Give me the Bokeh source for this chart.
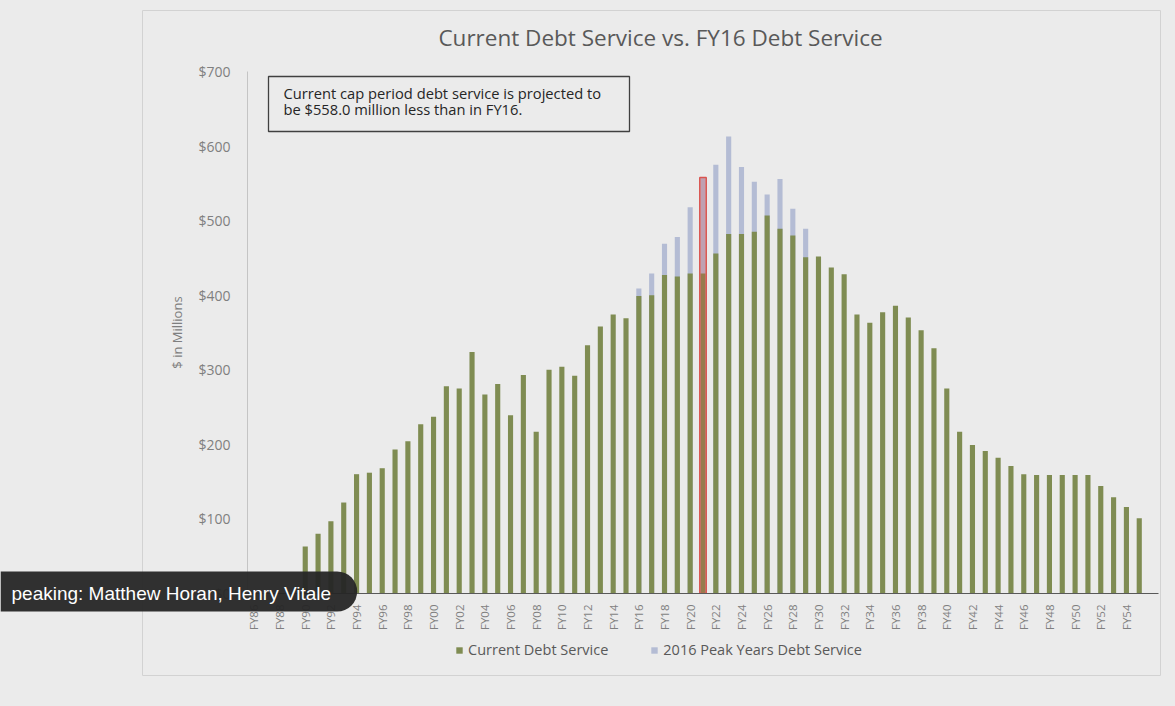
from math import pi
from bokeh.plotting import figure
from bokeh.models import (Range1d, FixedTicker, NumeralTickFormatter, Label,
                          BoxAnnotation, Legend, LegendItem)
from bokeh.embed import file_html
from bokeh.resources import INLINE

# ---------------- data ----------------
years = ["FY86", "FY87", "FY88", "FY89", "FY90", "FY91", "FY92", "FY93", "FY94", "FY95",
         "FY96", "FY97", "FY98", "FY99", "FY00", "FY01", "FY02", "FY03", "FY04", "FY05",
         "FY06", "FY07", "FY08", "FY09", "FY10", "FY11", "FY12", "FY13", "FY14", "FY15",
         "FY16", "FY17", "FY18", "FY19", "FY20", "FY21", "FY22", "FY23", "FY24", "FY25",
         "FY26", "FY27", "FY28", "FY29", "FY30", "FY31", "FY32", "FY33", "FY34", "FY35",
         "FY36", "FY37", "FY38", "FY39", "FY40", "FY41", "FY42", "FY43", "FY44", "FY45",
         "FY46", "FY47", "FY48", "FY49", "FY50", "FY51", "FY52", "FY53", "FY54", "FY55"]
current_debt = [0, 0, 0, 0, 63, 80, 97, 122, 160, 162,
                168, 193, 204, 227, 237, 278, 275, 324, 267, 281,
                239, 293, 217, 300, 304, 292, 333, 358, 374, 369,
                399, 400, 427, 425, 429, 429, 456, 482, 482, 485,
                507, 489, 480, 451, 452, 437, 428, 374, 363, 377,
                386, 370, 353, 329, 275, 217, 199, 191, 182, 171,
                160, 159, 159, 159, 159, 159, 144, 129, 116, 101]
peak_years = ["FY16", "FY17", "FY18", "FY19", "FY20", "FY21", "FY22",
              "FY23", "FY24", "FY25", "FY26", "FY27", "FY28", "FY29"]
peak_debt = [409, 429, 469, 478, 518, 558, 575, 613, 572, 552, 535, 556, 516, 489]
highlight_year = "FY21"
highlight_value = 558.0
y_ticks = [0, 100, 200, 300, 400, 500, 600, 700]
title_text = "Current Debt Service vs. FY16 Debt Service"
note_lines = ["Current cap period debt service is projected to",
              "be $558.0 million less than in FY16."]
series_names = ["Current Debt Service", "2016 Peak Years Debt Service"]
caption_text = "peaking: Matthew Horan, Henry Vitale"

# ---------------- style ----------------
BG = "#ebebeb"
GREEN = "#7f8c52"
PEAK = "#b4bcd4"
RED = "#d9534f"
GREY_TXT = "#7f7f7f"
FONT = "Open Sans"

W, H = 1172, 700
FL, FR, FT, FB = 247, 1158, 71, 593

p = figure(width=W, height=H, output_backend="svg", toolbar_location=None,
           x_range=Range1d(-0.5, len(years) + 0.5), y_range=Range1d(0, 700),
           min_border_left=FL, min_border_right=W - FR,
           min_border_top=FT, min_border_bottom=H - FB,
           background_fill_color=BG, border_fill_color=BG,
           outline_line_color=None)

p.xgrid.visible = False
p.ygrid.visible = False

idx = list(range(len(years)))
peak_x = [years.index(y) for y in peak_years]

r_peak = p.vbar(x=peak_x, top=peak_debt, width=0.4, fill_color=PEAK, line_color=None)
r_cur = p.vbar(x=idx, top=current_debt, width=0.4, fill_color=GREEN, line_color=None)
hx = years.index(highlight_year)
p.vbar(x=[hx], top=[highlight_value], width=0.5, fill_color="#e8453c", fill_alpha=0.22,
       line_color=RED, line_width=1.5)

# y axis
p.yaxis.ticker = FixedTicker(ticks=y_ticks)
p.yaxis.formatter = NumeralTickFormatter(format="$0")
p.yaxis.major_label_text_font = FONT
p.yaxis.major_label_text_font_size = "14px"
p.yaxis.major_label_text_color = GREY_TXT
p.yaxis.major_label_standoff = 11
p.yaxis.axis_line_color = "#c4c4c4"
p.yaxis.major_tick_line_color = None
p.yaxis.minor_tick_line_color = None
p.yaxis.axis_label = "$ in Millions"
p.yaxis.axis_label_text_font = FONT
p.yaxis.axis_label_text_font_style = "normal"
p.yaxis.axis_label_text_font_size = "13px"
p.yaxis.axis_label_text_color = GREY_TXT
p.yaxis.axis_label_standoff = 9

# x axis
even = [i for i in idx if i % 2 == 0]
p.xaxis.ticker = FixedTicker(ticks=even)
p.xaxis.major_label_overrides = {i: years[i] for i in even}
p.xaxis.major_label_orientation = pi / 2
p.xaxis.major_label_text_font = FONT
p.xaxis.major_label_text_font_size = "11.5px"
p.xaxis.major_label_text_color = GREY_TXT
p.xaxis.major_label_standoff = 5
p.xaxis.axis_line_color = "#595959"
p.xaxis.major_tick_line_color = None
p.xaxis.minor_tick_line_color = None

# note box (inside the plot area)
p.add_layout(BoxAnnotation(left=21, right=382, top=517, bottom=462,
                           left_units="screen", right_units="screen",
                           top_units="screen", bottom_units="screen",
                           fill_color=None, line_color="#404040", line_alpha=1,
                           line_width=1.3))
for k, line in enumerate(note_lines):
    p.add_layout(Label(x=36, y=501 - 16 * k, x_units="screen", y_units="screen", text=line,
                       text_align="left", text_baseline="middle", text_font=FONT,
                       text_font_size="14.7px", text_color="#262626"))

# ---------------- overlay layer (page-pixel coordinates) ----------------
ov = figure(width=W, height=H, output_backend="svg", toolbar_location=None,
            x_range=Range1d(0, W), y_range=Range1d(H, 0),
            x_axis_type=None, y_axis_type=None,
            min_border=0, outline_line_color=None,
            background_fill_alpha=0, border_fill_alpha=0,
            styles={"position": "absolute", "left": "0px", "top": "0px"})
ov.grid.visible = False

# outer chart border
ov.quad(left=[142], right=[1160], top=[10], bottom=[675],
        fill_color=None, line_color="#d2d2d2", line_width=1)

# title
ov.add_layout(Label(x=660, y=37, text=title_text, text_align="center",
                    text_baseline="middle", text_font=FONT, text_font_size="22.5px",
                    text_color="#595959"))

# legend proxies (zero-height, only for the legend swatches)
lg_cur = ov.vbar(x=[0], top=[0], bottom=[0], width=1, fill_color=GREEN, line_color=None)
lg_peak = ov.vbar(x=[0], top=[0], bottom=[0], width=1, fill_color=PEAK, line_color=None)
legend = Legend(items=[LegendItem(label=series_names[0], renderers=[lg_cur]),
                       LegendItem(label=series_names[1], renderers=[lg_peak])],
                location=(455, 41), orientation="horizontal",
                glyph_width=8, glyph_height=8, label_standoff=5, spacing=42,
                padding=0, margin=0, border_line_color=None, background_fill_alpha=0,
                label_text_font=FONT, label_text_font_size="14.5px",
                label_text_color="#595959")
ov.add_layout(legend)

# video caption overlay
ov.add_layout(Label(x=0, y=591, text=caption_text,
                    text_align="left", text_baseline="middle", text_font="Liberation Sans",
                    text_font_size="19px", text_color="white",
                    background_fill_color="#262626", background_fill_alpha=0.95,
                    padding=(11, 26, 11, 8), border_radius=(0, 21, 21, 0)))

html = file_html([p, ov], INLINE)
html = html.replace("<body>", '<body style="background-color:#ebebeb;">')
open("out.html", "w").write(html)
